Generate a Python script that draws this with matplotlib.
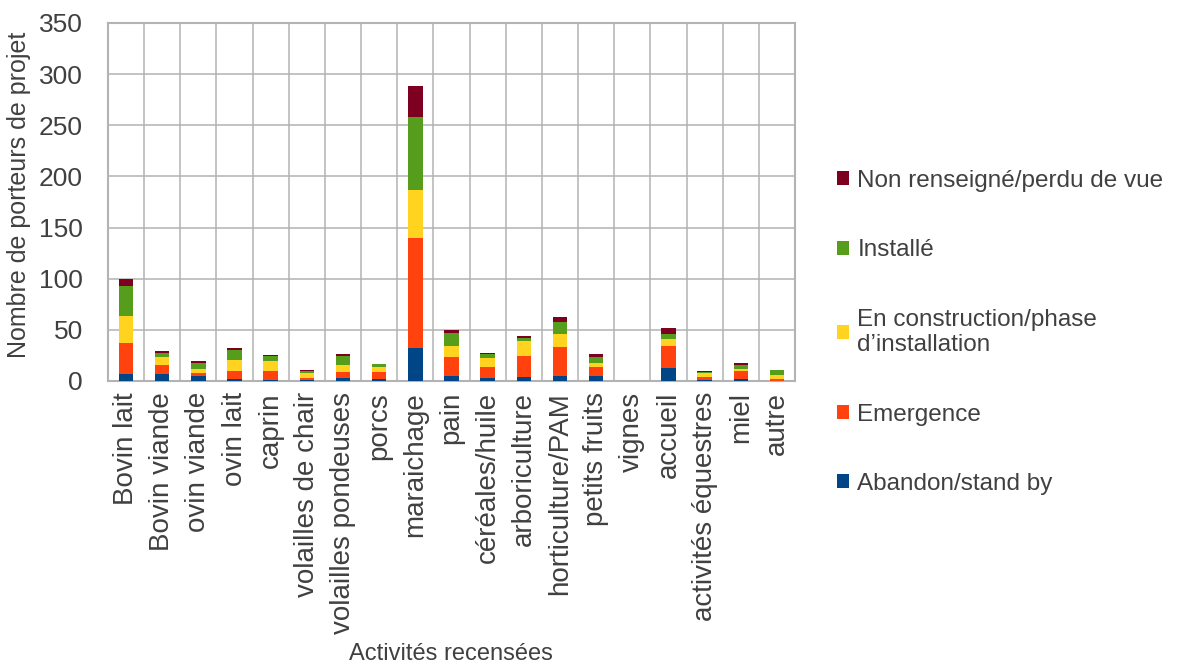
import numpy as np
import matplotlib
matplotlib.use('Agg')
import matplotlib.pyplot as plt

plt.rcParams['font.family'] = ['Liberation Sans', 'DejaVu Sans']

# %% data
activites = ['Bovin lait', 'Bovin viande', 'ovin viande', 'ovin lait', 'caprin',
             'volailles de chair', 'volailles pondeuses', 'porcs', 'maraichage', 'pain',
             'céréales/huile', 'arboriculture', 'horticulture/PAM', 'petits fruits',
             'vignes', 'accueil', 'activités équestres', 'miel', 'autre']

abandon = [7, 7, 5, 2, 1, 1, 3, 2, 32, 5, 3, 4, 5, 5, 0, 13, 1, 2, 0]
emergence = [30, 9, 3, 8, 9, 2, 6, 7, 108, 18, 11, 20, 28, 9, 0, 21, 3, 8, 2]
construction = [27, 7, 4, 11, 10, 5, 7, 5, 47, 11, 8, 15, 13, 4, 0, 7, 4, 2, 4]
installe = [29, 4, 6, 9, 4, 2, 8, 3, 71, 13, 4, 3, 12, 5, 0, 5, 1, 4, 5]
non_renseigne = [7, 2, 2, 2, 1, 1, 2, 0, 30, 3, 1, 2, 5, 3, 0, 6, 1, 2, 0]

series = [
    ('Abandon/stand by', abandon, '#004586'),
    ('Emergence', emergence, '#ff420e'),
    ('En construction/phase\nd\u2019installation', construction, '#ffd320'),
    ('Installé', installe, '#579d1c'),
    ('Non renseigné/perdu de vue', non_renseigne, '#7e0021'),
]

txt = '#404040'
grid = '#b3b3b3'

# %% plot
fig = plt.figure(figsize=(11.97, 6.63), dpi=100)
ax = fig.add_axes([108 / 1197, 1 - 381 / 663, (795 - 108) / 1197, (381 - 23) / 663])

x = np.arange(len(activites))
bottom = np.zeros(len(activites))
for label, vals, col in series:
    ax.bar(x, vals, width=0.4, bottom=bottom, color=col, label=label, zorder=3, linewidth=0)
    bottom += np.array(vals)

ax.set_xlim(-0.5, len(activites) - 0.5)
ax.set_ylim(0, 350)
ax.set_yticks(np.arange(0, 351, 50))
ax.set_xticks(x)
ax.set_xticklabels(activites, rotation=90)
ax.set_xticks(np.arange(0.5, len(activites) - 1, 1), minor=True)
ax.grid(axis='y', which='major', color=grid, lw=1.1, zorder=0)
ax.grid(axis='x', which='minor', color=grid, lw=1.1, zorder=0)
ax.tick_params(axis='both', which='both', length=0, labelsize=20, colors=txt)
ax.tick_params(axis='y', pad=18, labelsize=19)
ax.tick_params(axis='x', pad=8)
for s in ax.spines.values():
    s.set_color(grid)
    s.set_linewidth(1.5)

ax.set_ylabel('Nombre de porteurs de projet', fontsize=18, color=txt)
ax.yaxis.set_label_coords(-0.112, 0.52)
fig.text(451 / 1197, 1 - 654 / 663, 'Activités recensées', fontsize=17, color=txt,
         ha='center', va='center')

h, l = ax.get_legend_handles_labels()
fig.legend(h[::-1], l[::-1], loc='upper left', bbox_to_anchor=(0.699, 1 - 170 / 663),
           frameon=False, fontsize=17.5, handlelength=0.5, handleheight=0.5,
           handletextpad=0.35, labelspacing=1.95, borderpad=0, borderaxespad=0,
           labelcolor=txt)

plt.savefig('out.png', dpi=100)
